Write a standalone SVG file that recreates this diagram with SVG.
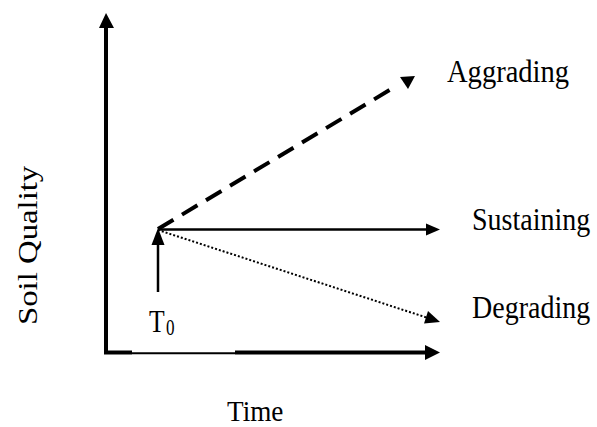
<svg xmlns="http://www.w3.org/2000/svg" width="597" height="427" viewBox="0 0 597 427">
<style>
  .lbl { font-family: "Liberation Serif", "Times New Roman", serif; font-size: 28px; fill: #000; }
  .ax { stroke: #000; stroke-width: 4; fill: none; }
  .thin { stroke: #000; stroke-width: 2; fill: none; }
  .solid { stroke: #000; stroke-width: 2.5; fill: none; }
  .dash { stroke: #000; stroke-width: 4; fill: none; stroke-dasharray: 18 10; }
  .dot { stroke: #000; stroke-width: 2; fill: none; stroke-dasharray: 2 2; }
  .head { fill: #000; stroke: none; }
</style>
<rect width="597" height="427" fill="#fff"/>
<g id="connectors">
  <!-- Y axis -->
  <line class="ax" x1="106" y1="354" x2="106" y2="27"/>
  <polygon class="head" points="106,13 99,28 114,28"/>
  <!-- X axis -->
  <line class="ax" x1="104" y1="352.5" x2="132" y2="352.5"/>
  <line class="thin" x1="132" y1="353.3" x2="235" y2="353.3"/>
  <line class="ax" x1="235" y1="352.5" x2="426" y2="352.5"/>
  <polygon class="head" points="440,352.5 425,345 425,360"/>
  <!-- T0 vertical arrow -->
  <line class="solid" x1="158" y1="292" x2="158" y2="244"/>
  <polygon class="head" points="158,228 151.5,245 164.5,245"/>
  <!-- Sustaining -->
  <line class="solid" x1="158" y1="229.5" x2="428" y2="229.5"/>
  <polygon class="head" points="440,229.5 426,223.5 426,235.5"/>
  <!-- Degrading -->
  <line class="dot" x1="158" y1="230" x2="428" y2="318"/>
  <polygon class="head" points="440,322 424,323.5 428,311"/>
  <!-- Aggrading -->
  <line class="dash" x1="158" y1="229" x2="398" y2="85"/>
  <polygon class="head" points="400,77 415,76 408,89"/>
</g>
<g id="label-aggrading">
  <text class="lbl" transform="translate(447,82) scale(1.02,1.1)">Aggrading</text>
</g>
<g id="label-sustaining">
  <text class="lbl" transform="translate(472,230) scale(1,1.12)">Sustaining</text>
</g>
<g id="label-degrading">
  <text class="lbl" transform="translate(472,318) scale(1,1.12)">Degrading</text>
</g>
<g id="label-time">
  <text class="lbl" transform="translate(227,421) scale(0.97,1.08)">Time</text>
</g>
<g id="label-t0">
  <text class="lbl" transform="translate(149,332) scale(0.95,1.2)" style="font-size:27px">T</text>
  <text class="lbl" transform="translate(166,335) scale(0.9,1.2)" style="font-size:19px">0</text>
</g>
<g id="label-soil-quality">
  <text class="lbl" transform="translate(37,325) rotate(-90) scale(1.17,1)">Soil Quality</text>
</g>
</svg>
